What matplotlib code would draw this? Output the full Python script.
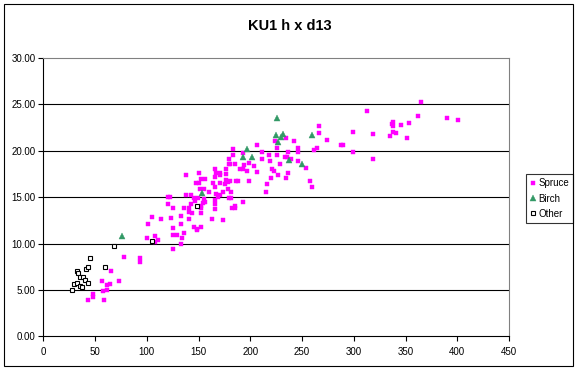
import numpy as np
import matplotlib
matplotlib.use('Agg')
import matplotlib.pyplot as plt
import matplotlib.patches as patches

plt.rcParams['font.family'] = ['Liberation Sans', 'DejaVu Sans']

# d13 (x) and h (y) for each species
spruceX = [78.3, 65.7, 57.0, 61.8, 64.7, 73.4, 58.0, 61.8, 48.3, 48.3, 43.5, 58.9,
           93.7, 93.7, 100.5, 108.2, 111.1, 108.2, 125.6, 129.5, 136.2, 134.3, 133.3, 125.6,
           148.8, 101.5, 105.3, 114.0, 123.7, 133.3, 141.1, 133.3, 125.6, 145.9, 152.7, 148.8,
           125.6, 136.2, 141.1, 141.1, 144.0, 152.7, 163.3, 173.9, 120.8, 122.7, 120.5, 138.2,
           143.0, 145.3, 143.0, 138.2, 146.9, 149.8, 155.6, 154.6, 152.7, 152.7, 156.5, 165.6,
           165.6, 166.2, 185.5, 185.5, 182.3, 179.7, 181.6, 193.2, 167.2, 171.0, 169.1, 160.4,
           173.9, 181.6, 178.7, 151.7, 155.6, 164.3, 166.2, 171.0, 175.9, 178.7, 147.8, 150.7,
           152.7, 156.5, 166.2, 176.8, 180.7, 186.5, 188.4, 150.7, 167.2, 171.0, 171.0, 176.8,
           166.2, 176.8, 179.7, 179.4, 180.7, 185.5, 183.6, 183.6, 190.1, 193.2, 194.2, 197.1,
           199.0, 203.9, 206.8, 199.0, 193.2, 206.8, 211.6, 211.6, 216.4, 214.9, 218.4, 219.3,
           221.3, 223.2, 220.3, 224.2, 226.1, 226.1, 227.1, 229.0, 233.8, 235.8, 234.8, 236.7,
           236.7, 234.8, 239.6, 242.5, 245.8, 246.4, 246.4, 254.1, 258.0, 259.9, 261.6, 264.7,
           266.1, 266.7, 274.4, 287.9, 289.9, 299.5, 299.5, 313.0, 318.8, 318.8, 335.3, 338.2,
           341.1, 338.2, 336.9, 338.2, 345.9, 353.6, 351.7, 362.3, 365.2, 389.8, 401.0]
spruceY = [8.51, 7.00, 5.93, 5.50, 5.60, 5.93, 4.85, 4.96, 4.53, 4.23, 3.88, 3.88,
           8.41, 7.97, 10.56, 10.78, 10.34, 10.13, 10.88, 10.88, 11.10, 10.63, 9.91, 9.38,
           11.45, 12.07, 12.82, 12.61, 12.72, 12.93, 12.61, 12.07, 11.64, 11.75, 11.75, 11.53,
           13.79, 13.79, 13.79, 13.36, 13.25, 13.25, 12.61, 12.50, 14.98, 14.98, 14.29, 15.19,
           15.19, 14.94, 14.29, 17.35, 14.55, 14.87, 14.76, 14.33, 14.01, 13.79, 14.44, 14.22,
           13.69, 14.69, 14.01, 13.79, 13.79, 14.87, 14.87, 14.44, 15.30, 15.19, 14.98, 15.52,
           15.52, 15.52, 15.84, 15.84, 15.84, 16.49, 16.06, 16.49, 16.38, 16.60, 16.49, 16.49,
           16.92, 16.92, 17.13, 16.81, 16.70, 16.70, 16.70, 17.56, 17.56, 17.56, 17.35, 17.46,
           18.00, 18.00, 19.07, 18.57, 18.53, 18.53, 19.50, 20.15, 18.00, 18.00, 18.43, 17.78,
           18.64, 18.32, 17.67, 16.70, 19.72, 20.58, 19.83, 19.07, 16.38, 15.52, 19.50, 18.86,
           18.00, 17.78, 17.03, 21.01, 20.26, 19.50, 17.35, 18.53, 19.29, 19.29, 21.34, 19.83,
           17.56, 17.03, 19.07, 21.01, 19.83, 20.26, 18.86, 18.10, 16.70, 16.06, 20.08, 20.26,
           22.66, 21.88, 21.12, 20.58, 20.58, 21.98, 19.83, 24.25, 21.77, 19.07, 21.55, 21.98,
           21.88, 23.06, 22.85, 22.63, 22.74, 22.95, 21.34, 23.71, 25.28, 23.49, 23.28]

birchX = [76.3, 153.6, 225.5, 224.8, 231.9, 229.7, 227.1, 259.9, 197.1, 192.7, 201.2, 237.7, 249.5]
birchY = [10.86, 15.50, 23.49, 21.69, 21.83, 21.44, 20.97, 21.69, 20.22, 19.38, 19.32, 19.00, 18.57]

otherX = [28.0, 30.0, 32.9, 35.7, 37.1, 32.3, 33.8, 35.5, 38.6, 40.6, 42.9, 41.0, 43.2,
          45.1, 59.9, 68.3, 104.7, 148.8]
otherY = [5.02, 5.64, 5.74, 5.42, 5.34, 7.07, 6.85, 6.42, 6.36, 6.07, 5.78, 7.28, 7.50,
          8.47, 7.50, 9.76, 10.27, 14.04]

xTicks = [0, 50, 100, 150, 200, 250, 300, 350, 400, 450]
yTicks = [0, 5, 10, 15, 20, 25, 30]

W, H = 577, 371
fig = plt.figure(figsize=(W / 100, H / 100), dpi=100)
fig.patch.set_facecolor('white')

# outer chart border
fig.patches.append(patches.Rectangle((4 / W, 5 / H), 569 / W, 362 / H, transform=fig.transFigure,
                                     fill=False, edgecolor='black', linewidth=0.8))

ax = fig.add_axes([43.3 / W, 1 - 336.3 / H, (509 - 43.3) / W, (336.3 - 58) / H])
ax.set_xlim(0, 450)
ax.set_ylim(0, 30)

for yv in yTicks[1:-1]:
    ax.axhline(yv, color='black', linewidth=0.8, zorder=1)

ax.plot(spruceX, spruceY, linestyle='none', marker='s', markersize=2.8,
        markerfacecolor='#FF00FF', markeredgecolor='#FF00FF', markeredgewidth=0.3,
        label='Spruce', zorder=3)
ax.plot(birchX, birchY, linestyle='none', marker='^', markersize=4.2,
        markerfacecolor='#339966', markeredgecolor='#339966', markeredgewidth=0.3,
        label='Birch', zorder=4)
ax.plot(otherX, otherY, linestyle='none', marker='s', markersize=3.2,
        markerfacecolor='white', markeredgecolor='black', markeredgewidth=0.8,
        label='Other', zorder=5)

ax.set_xticks(xTicks)
ax.set_yticks(yTicks)
ax.set_xticklabels([str(v) for v in xTicks])
ax.set_yticklabels(['%.2f' % v for v in yTicks])
ax.tick_params(axis='both', direction='out', length=3.5, width=0.8, labelsize=7, colors='black')
ax.tick_params(axis='x', pad=4)
ax.tick_params(axis='y', pad=2)

for side in ['left', 'bottom']:
    ax.spines[side].set_color('black')
    ax.spines[side].set_linewidth(0.8)
for side in ['top', 'right']:
    ax.spines[side].set_color('#808080')
    ax.spines[side].set_linewidth(0.8)

fig.text(290 / W, 1 - 26 / H, 'KU1 h x d13', ha='center', va='center', fontsize=10.5,
         fontweight='bold')

leg = ax.legend(loc='upper left', bbox_to_anchor=(525.7 / W, 1 - 174.3 / H),
                bbox_transform=fig.transFigure, fontsize=7, frameon=True, fancybox=False,
                borderpad=0.4, labelspacing=0.55, handlelength=0.6, handletextpad=0.3,
                borderaxespad=0)
leg.get_frame().set_edgecolor('black')
leg.get_frame().set_linewidth(0.8)

fig.savefig('out.png', dpi=100)
